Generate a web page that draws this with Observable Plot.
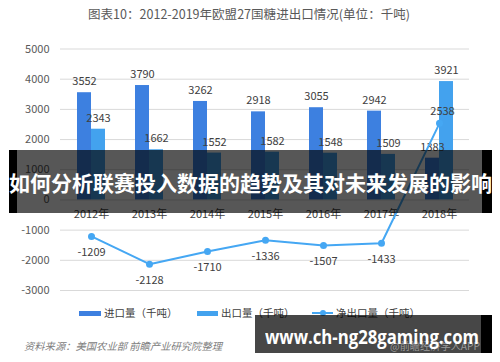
<!DOCTYPE html>
<html><head><meta charset="utf-8">
<script src="https://cdn.jsdelivr.net/npm/d3@7"></script>
<script src="https://cdn.jsdelivr.net/npm/@observablehq/plot@0.6"></script>
<style>
body{margin:0;background:#fff;font-family:"Noto Sans CJK SC","Noto Sans",sans-serif;}
#wrap{position:relative;width:500px;height:362px;overflow:hidden;}
#wrap svg{position:absolute;left:0;top:0;}
.abs{position:absolute;white-space:nowrap;line-height:1;}
.fit{display:inline-block;transform-origin:0 50%;}
</style></head><body><div id="wrap"></div>
<script>
const years = ["2012","2013","2014","2015","2016","2017","2018"];
const tickLabels = ["2012年","2013年","2014年","2015年","2016年","2017年","2018年"];
const imports = [3552,3790,3262,2918,3055,2942,1383];
const exportsVals = [2343,1662,1552,1582,1548,1509,3921];
const netVals = [-1209,-2128,-1710,-1336,-1507,-1433,2538];
const yTicks = [-3000,-2000,-1000,0,1000,2000,3000,4000,5000];
const seriesNames = ["进口量（千吨）","出口量（千吨）","净出口量（千吨）"];
const colors = ["#3d80e0","#43a2ee","#45a7f3"];
const titleText = "图表10：2012-2019年欧盟27国糖进出口情况(单位：千吨)";
const sourceText = "资料来源：美国农业部 前瞻产业研究院整理";
const creditText = "@前瞻经济学人APP";
const bannerText = "如何分析联赛投入数据的趋势及其对未来发展的影响";
const urlText = "www.ch-ng28gaming.com";

const rows = years.map((y,i)=>({year:y, label:tickLabels[i], imp:imports[i], exp:exportsVals[i], net:netVals[i]}));
const font = '"Noto Sans CJK SC","Noto Sans",sans-serif';
const lbl = {fontSize:11, fill:"#404040", fontFamily:font};

const chart = Plot.plot({
  width:500, height:362,
  marginTop:48.5, marginBottom:72, marginLeft:60, marginRight:31,
  x:{type:"band", domain:years, paddingInner:0.52, paddingOuter:0.26, axis:null},
  y:{domain:[-3000,5000], axis:null},
  style:{fontFamily:font, background:"transparent", overflow:"visible"},
  marks:[
    Plot.ruleY(yTicks,{stroke:"#d9d9d9", strokeWidth:1}),
    Plot.axisY({ticks:yTicks, tickSize:0, tickPadding:11, fontSize:11, fill:"#595959", tickFormat:d=>String(d), label:null}),
    Plot.barY(rows,{x:"year", y:"imp", fill:colors[0], insetRight:14}),
    Plot.barY(rows,{x:"year", y:"exp", fill:colors[1], insetLeft:14}),
    Plot.text(rows,{x:"year", y:()=>0, text:"label", dy:15, fontSize:11, fill:"#404040", fontFamily:font}),
    Plot.text(rows,{x:"year", y:"imp", text:d=>String(d.imp), dx:-7, dy:-11, ...lbl}),
    Plot.text(rows,{x:"year", y:"exp", text:d=>String(d.exp), dx:7, dy:-11, ...lbl}),
    Plot.line(rows,{x:"year", y:"net", stroke:colors[2], strokeWidth:2}),
    Plot.dot(rows,{x:"year", y:"net", r:3.5, fill:colors[2], stroke:"none"}),
    Plot.text(rows.filter(d=>d.net<0),{x:"year", y:"net", text:d=>String(d.net), dy:16, ...lbl}),
    Plot.text(rows.filter(d=>d.net>=0),{x:"year", y:"net", text:d=>String(d.net), dx:3, dy:-12, ...lbl})
  ]
});
const wrap = document.getElementById("wrap");
wrap.appendChild(chart);

function add(html, style){
  const d=document.createElement("div"); d.className="abs"; d.innerHTML=html;
  Object.assign(d.style, style); wrap.appendChild(d); return d;
}
function fitText(el, target){
  const span = el.querySelector(".fit");
  const w = span.getBoundingClientRect().width;
  span.style.transform = `scaleX(${target/w})`;
}
// title
const t = add(`<span class="fit">${titleText}</span>`,{left:"88px", top:"8px", fontSize:"12.5px", color:"#595959"});
fitText(t, 322);
// legend
const lx = [[79,22,104],[197,21,221]];
lx.forEach((l,i)=>{
  add("",{left:l[0]+"px", top:"310.5px", width:l[1]+"px", height:"5px", background:colors[i]});
  add(seriesNames[i],{left:l[2]+"px", top:"307.5px", fontSize:"10.5px", color:"#404040"});
});
add("",{left:"312px", top:"312px", width:"21px", height:"2px", background:colors[2]});
add("",{left:"319.5px", top:"310px", width:"6px", height:"6px", borderRadius:"3px", background:colors[2]});
add(seriesNames[2],{left:"336px", top:"307.5px", fontSize:"10.5px", color:"#404040"});
// source
const s = add(`<span class="fit">${sourceText}</span>`,{left:"24px", top:"340.5px", fontSize:"10px", color:"#808080", fontStyle:"italic"});
fitText(s, 198);
// banner 1
add("",{left:"9px", top:"150px", width:"465px", height:"63px", background:"rgba(0,0,0,0.66)", borderLeft:"8px solid #000", borderRight:"10px solid #000"});
const b1 = add(`<span class="fit">${bannerText}</span>`,{left:"9px", top:"172px", fontSize:"21px", fontWeight:"bold", color:"#fff"});
fitText(b1, 483);
// banner 2
add("",{left:"255px", top:"315px", width:"226px", height:"38px", background:"rgba(0,0,0,0.72)", borderRight:"11px solid #000"});
const c = add(`<span class="fit">${creditText}</span>`,{left:"390px", top:"341px", fontSize:"10px", color:"#9a9a9a"});
fitText(c, 90);
const b2 = add(`<span class="fit">${urlText}</span>`,{left:"265px", top:"327px", fontSize:"20px", fontWeight:"bold", color:"#fff", fontFamily:'"Open Sans","Noto Sans",sans-serif'});
fitText(b2, 214);
</script></body></html>
